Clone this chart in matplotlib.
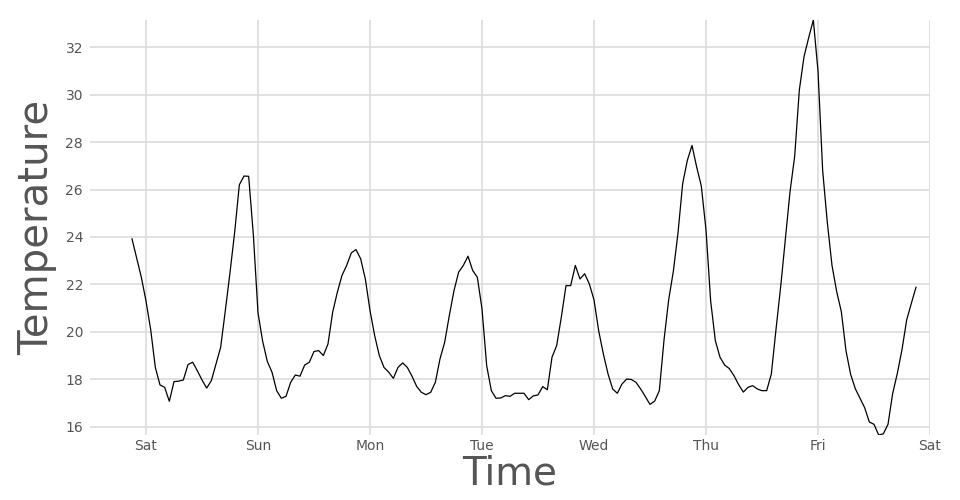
import numpy as np
import pandas as pd
import matplotlib
matplotlib.use("Agg")
import matplotlib.pyplot as plt
import matplotlib.dates as mdates

# hourly readings, Friday 21:00 -> next Friday 21:00
start = "2023-06-02 21:00"
temps = [
    23.92, 23.1, 22.3,                                          # Fri evening
    21.3, 20.1, 18.5, 17.76, 17.66, 17.07, 17.9, 17.92, 17.97, 18.62, 18.72, 18.36,
    17.97, 17.63, 17.94, 18.65, 19.35, 20.9, 22.5, 24.2, 26.2, 26.57, 26.56, 24.1,   # Sat
    20.8, 19.6, 18.75, 18.3, 17.52, 17.2, 17.28, 17.87, 18.18, 18.13, 18.6, 18.72,
    19.17, 19.21, 19.0, 19.49, 20.83, 21.67, 22.38, 22.8, 23.33, 23.47, 23.08, 22.23,  # Sun
    20.9, 19.84, 19.0, 18.5, 18.3, 18.04, 18.5, 18.69, 18.5, 18.13, 17.7, 17.45,
    17.35, 17.45, 17.87, 18.86, 19.56, 20.69, 21.74, 22.52, 22.8, 23.19, 22.59, 22.3,  # Mon
    20.97, 18.58, 17.52, 17.2, 17.21, 17.31, 17.28, 17.41, 17.41, 17.41, 17.14, 17.3,
    17.34, 17.69, 17.56, 18.93, 19.42, 20.62, 21.95, 21.95, 22.8, 22.23, 22.45, 22.02,  # Tue
    21.35, 20.05, 19.07, 18.23, 17.59, 17.41, 17.8, 18.01, 17.99, 17.87, 17.59, 17.27,
    16.94, 17.08, 17.52, 19.65, 21.35, 22.55, 24.17, 26.25, 27.23, 27.86, 26.95, 26.14,  # Wed
    24.3, 21.3, 19.63, 18.93, 18.6, 18.45, 18.15, 17.77, 17.46, 17.66, 17.73, 17.59,
    17.52, 17.52, 18.22, 20.1, 21.9, 23.9, 25.9, 27.4, 30.2, 31.6, 32.4, 33.15,  # Thu
    31.0, 26.8, 24.6, 22.8, 21.7, 20.85, 19.2, 18.2, 17.6, 17.2, 16.8, 16.2,
    16.1, 15.65, 15.7, 16.1, 17.4, 18.25, 19.25, 20.5, 21.2, 21.88,              # Fri
]
times = pd.date_range(start, periods=len(temps), freq="h")
temps = np.array(temps)

plt.rcParams['font.family'] = ['DejaVu Sans']

fig = plt.figure(figsize=(9.6, 5), dpi=100)
ax = fig.add_axes([0.09375, 0.13, 0.875, 0.83])

ax.plot(times, temps, color="black", linewidth=0.9)

ax.set_xlim(pd.Timestamp("2023-06-02 12:00"), pd.Timestamp("2023-06-10 00:00"))
ax.set_ylim(temps.min(), temps.max())
ax.xaxis.set_major_locator(mdates.DayLocator())
ax.xaxis.set_major_formatter(mdates.DateFormatter("%a"))
ax.set_yticks(np.arange(16, 33, 2))

ax.grid(True, color="#dcdcdc", linewidth=1.2)
ax.set_axisbelow(True)
for s in ax.spines.values():
    s.set_visible(False)
ax.tick_params(length=0, labelsize=10, labelcolor="#555555")
ax.tick_params(axis="y", pad=5)
ax.tick_params(axis="x", pad=3)

ax.set_xlabel("Time", fontsize=28, color="#555555", labelpad=1)
ax.set_ylabel("Temperature", fontsize=29, color="#555555", labelpad=6)

fig.savefig("out.png", dpi=100)
